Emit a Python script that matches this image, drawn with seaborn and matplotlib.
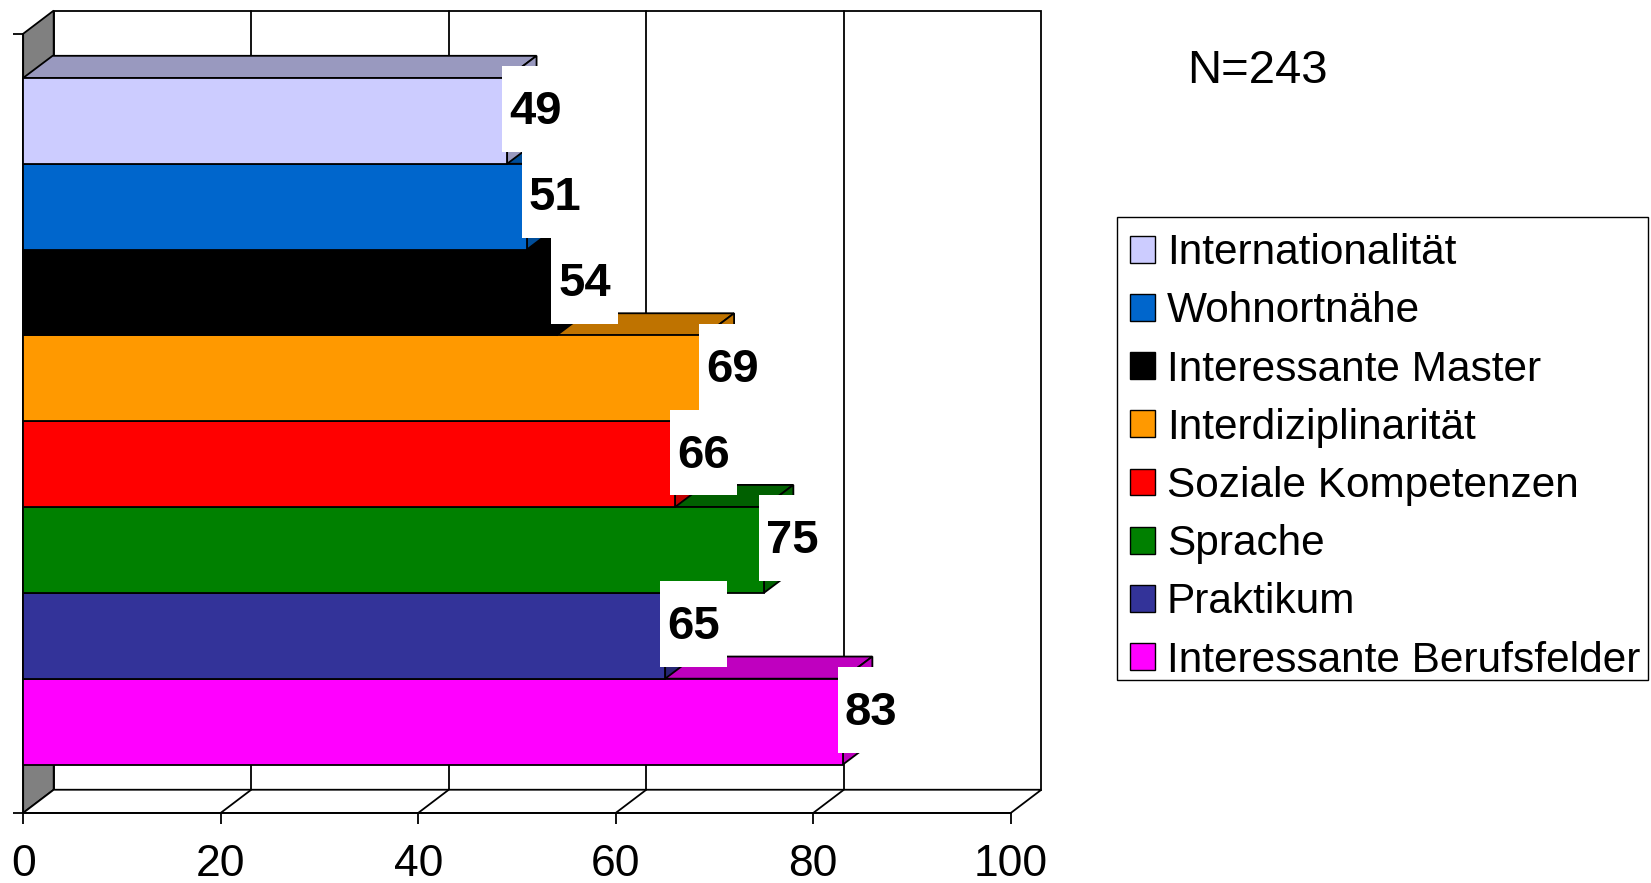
import numpy as np
import pandas as pd
import seaborn as sns
import matplotlib.pyplot as plt
from matplotlib.patches import Polygon, Rectangle, Patch
from matplotlib.colors import to_rgb

# data (top bar first)
categories = ["Internationalität", "Wohnortnähe", "Interessante Master",
              "Interdiziplinarität", "Soziale Kompetenzen", "Sprache",
              "Praktikum", "Interessante Berufsfelder"]
values = [49, 51, 54, 69, 66, 75, 65, 83]
colors = ["#CCCCFF", "#0066CC", "#000000", "#FF9900",
          "#FF0000", "#008000", "#333399", "#FF00FF"]
xticks = [0, 20, 40, 60, 80, 100]
n_label = "N=243"


def shade(c, f=0.75):
    r, g, b = to_rgb(c)
    return (r * f, g * f, b * f)


def main():
    sns.set_style("ticks")
    plt.rcParams['font.family'] = ['Liberation Sans', 'DejaVu Sans']
    plt.rcParams['text.color'] = 'black'
    plt.rcParams['xtick.color'] = 'black'
    plt.rcParams['ytick.color'] = 'black'

    W, H = 1651, 883
    fig = plt.figure(figsize=(W / 100, H / 100), dpi=100)
    ax = fig.add_axes([0.00027, 0.037, 0.6419, 0.9622])

    df = pd.DataFrame({"item": categories, "value": values})
    sns.barplot(data=df, x="value", y="item", hue="item", palette=colors,
                orient="h", width=1.0, edgecolor="black", linewidth=1.3,
                saturation=1, legend=False, ax=ax)
    bars = sorted(list(ax.patches), key=lambda p: p.get_y())

    # 3d box geometry (data units)
    wdx, wdy = 3.09, 0.27      # wall depth
    bdx, bdy = 2.98, 0.258     # bar depth
    top_f, bot_f = -1.015, 8.064
    lw = 1.3

    # walls and floor
    ax.add_patch(Rectangle((wdx, top_f - wdy), 100, bot_f - top_f,
                           facecolor='white', edgecolor='black', lw=lw, zorder=1))
    ax.add_patch(Polygon([(0, top_f), (wdx, top_f - wdy), (wdx, bot_f - wdy), (0, bot_f)],
                         closed=True, facecolor='#808080', edgecolor='black', lw=lw, zorder=2))
    ax.add_patch(Polygon([(0, bot_f), (100, bot_f), (100 + wdx, bot_f - wdy), (wdx, bot_f - wdy)],
                         closed=True, facecolor='white', edgecolor='black', lw=lw, zorder=2))
    for t in xticks[1:-1]:
        ax.plot([t + wdx, t + wdx], [top_f - wdy, bot_f - wdy], color='black', lw=lw, zorder=1.5)
        ax.plot([t, t + wdx], [bot_f, bot_f - wdy], color='black', lw=lw, zorder=2.5)

    # bars: top and side faces, bottom bar drawn first
    n = len(bars)
    for k, p in enumerate(bars):
        v = p.get_width()
        y0 = p.get_y()
        h = p.get_height()
        c = colors[k]
        z = 10 + 2 * (n - 1 - k)
        ax.add_patch(Polygon([(0, y0), (v, y0), (v + bdx, y0 - bdy), (bdx, y0 - bdy)],
                             closed=True, facecolor=shade(c), edgecolor='black', lw=lw, zorder=z))
        ax.add_patch(Polygon([(v, y0), (v + bdx, y0 - bdy), (v + bdx, y0 + h - bdy), (v, y0 + h)],
                             closed=True, facecolor=shade(c), edgecolor='black', lw=lw, zorder=z))
        p.set_zorder(z + 1)

    # value labels on white boxes
    for k, p in enumerate(bars):
        v = p.get_width()
        y0 = p.get_y()
        ax.add_patch(Rectangle((v - 0.53, y0 - 0.135), 6.8, 1.0,
                               facecolor='white', edgecolor='none', zorder=30))
        ax.text(v + 2.87, y0 + 0.5 - 0.10, str(values[k]), ha='center', va='center',
                fontsize=34, fontweight='bold', color='black', zorder=31)

    # axes
    ax.spines['top'].set_visible(False)
    ax.spines['right'].set_visible(False)
    ax.spines['bottom'].set_position(('data', bot_f))
    ax.spines['bottom'].set_bounds(0, 100)
    ax.spines['left'].set_position(('data', 0))
    ax.spines['left'].set_bounds(top_f, bot_f)
    for s in ['bottom', 'left']:
        ax.spines[s].set_color('black')
        ax.spines[s].set_linewidth(lw)
    ax.set_xticks(xticks)
    ax.set_xticklabels([str(t) for t in xticks], fontsize=32)
    ax.set_yticks([top_f, bot_f])
    ax.set_yticklabels([])
    ax.tick_params(axis='x', direction='out', length=8, width=lw, pad=14.5, colors='black')
    ax.tick_params(axis='y', direction='out', length=7.5, width=lw, colors='black')
    ax.set_xlim(-2.3, 105)
    ax.set_ylim(8.5, -1.4)
    ax.set_xlabel('')
    ax.set_ylabel('')
    ax.patch.set_alpha(0)

    # legend frame drawn separately, entries placed inside it
    fig.add_artist(Rectangle((1117 / W, 1 - 680 / H), (1648 - 1117) / W, (680 - 217) / H,
                             transform=fig.transFigure, facecolor='white',
                             edgecolor='black', lw=1.0, zorder=1))
    handles = [Patch(facecolor=c, edgecolor='black', linewidth=1.0) for c in colors]
    leg = fig.legend(handles, categories, loc='upper left',
                     bbox_to_anchor=(1119 / W, 1 - 222.5 / H), fontsize=30.5,
                     frameon=False, handlelength=0.6, handleheight=0.6,
                     handletextpad=0.28, labelspacing=0.43, borderpad=0.25,
                     borderaxespad=0)
    for t in leg.get_texts():
        t.set_color('black')
    fig.text(1187 / W, 1 - 71 / H, n_label, ha='left', va='center', fontsize=34)

    fig.savefig("out.png", dpi=100, facecolor='white')


if __name__ == "__main__":
    main()
